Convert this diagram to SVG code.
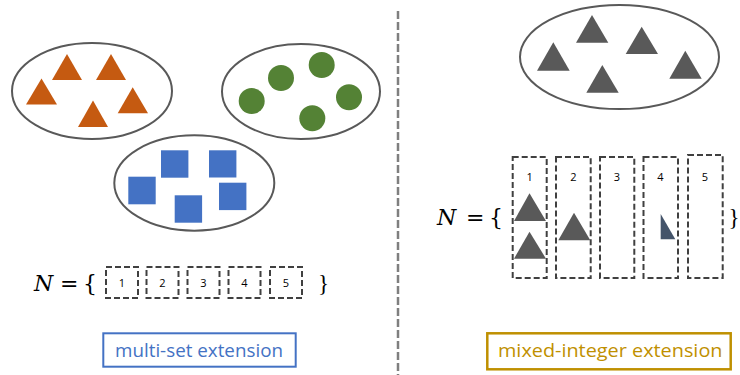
<svg xmlns="http://www.w3.org/2000/svg" width="740" height="375" viewBox="0 0 740 375">
<style>
.ell{fill:none;stroke:#595959;stroke-width:2}
.tri-o{fill:#C55A11}
.tri-g{fill:#595959}
.circ{fill:#548235}
.sq{fill:#4472C4}
.dbox{fill:none;stroke:#404040;stroke-width:2;stroke-dasharray:6 3}
.num{font-family:"Open Sans","Liberation Sans",sans-serif;font-size:11px;fill:#000;text-anchor:middle}
.math{font-family:"DejaVu Serif","Liberation Serif",serif;font-size:22px;fill:#000}
.br{font-family:"Liberation Serif",serif;font-size:23px;fill:#000}
.mi{font-style:italic}
.lbl{font-family:"Open Sans","Liberation Sans",sans-serif;font-size:19px}
</style>
<rect width="740" height="375" fill="#fff"/>
<g id="divider"><line x1="398" y1="11" x2="398" y2="375" stroke="#7f7f7f" stroke-width="2.5" stroke-dasharray="8 3"/></g>

<g id="orange-set">
<ellipse class="ell" cx="92" cy="91" rx="80" ry="48"/>
<polygon class="tri-o" points="67,54 52,80 82,80"/>
<polygon class="tri-o" points="111,54 96,80 126,80"/>
<polygon class="tri-o" points="41.5,78.5 26,104.5 57,104.5"/>
<polygon class="tri-o" points="93,100.5 78,127 108,127"/>
<polygon class="tri-o" points="132.7,87.3 117.7,113.3 148,113.3"/>
</g>

<g id="green-set">
<ellipse class="ell" cx="301" cy="91.5" rx="79" ry="47.5"/>
<circle class="circ" cx="251.7" cy="101" r="13"/>
<circle class="circ" cx="281" cy="78" r="13"/>
<circle class="circ" cx="321.7" cy="65" r="13"/>
<circle class="circ" cx="349" cy="97.3" r="13"/>
<circle class="circ" cx="312.3" cy="118.3" r="13"/>
</g>

<g id="blue-set">
<ellipse class="ell" cx="194.3" cy="183" rx="80" ry="47.7"/>
<rect class="sq" x="128.3" y="176.7" width="27.4" height="27.6"/>
<rect class="sq" x="161" y="150.3" width="27.4" height="27.4"/>
<rect class="sq" x="209" y="150.3" width="27.4" height="27.2"/>
<rect class="sq" x="174.7" y="195.3" width="27.4" height="27.4"/>
<rect class="sq" x="219" y="182.7" width="27.4" height="27.4"/>
</g>

<g id="left-N">
<text class="math mi" x="34" y="291">N</text>
<text class="math" x="60" y="291">=</text>
<text class="math" x="83" y="291">{</text>
<text class="br" x="318" y="291">}</text>
</g>
<g id="left-box-1"><rect class="dbox" x="106" y="267" width="32" height="31"/><text class="num" x="122" y="287">1</text></g>
<g id="left-box-2"><rect class="dbox" x="146.5" y="267" width="32" height="31"/><text class="num" x="162.5" y="287">2</text></g>
<g id="left-box-3"><rect class="dbox" x="187.5" y="267" width="32" height="31"/><text class="num" x="203.5" y="287">3</text></g>
<g id="left-box-4"><rect class="dbox" x="228.5" y="267" width="32" height="31"/><text class="num" x="244.5" y="287">4</text></g>
<g id="left-box-5"><rect class="dbox" x="270" y="267" width="32" height="31"/><text class="num" x="286" y="287">5</text></g>

<g id="multi-set-label">
<rect x="103.3" y="333.3" width="192.4" height="33.4" fill="#fff" stroke="#4472C4" stroke-width="2"/>
<text class="lbl" x="115" y="357" fill="#4472C4" textLength="168" lengthAdjust="spacingAndGlyphs">multi-set extension</text>
</g>

<g id="gray-set">
<ellipse class="ell" cx="619.5" cy="57" rx="99.5" ry="52"/>
<polygon class="tri-g" points="592,15 576,42.7 608.3,42.7"/>
<polygon class="tri-g" points="641.7,26.7 625.7,54 658,54"/>
<polygon class="tri-g" points="553.3,42.3 537,70.7 569.7,70.7"/>
<polygon class="tri-g" points="602.3,65 586.3,92.7 618.7,92.7"/>
<polygon class="tri-g" points="685.3,50.7 669.3,78.7 701.7,78.7"/>
</g>

<g id="right-N">
<text class="math mi" x="437" y="225">N</text>
<text class="math" x="466" y="225">=</text>
<text class="math" x="489" y="225">{</text>
<text class="br" x="728.5" y="225">}</text>
</g>
<g id="right-box-1">
<rect class="dbox" x="512.7" y="157" width="34" height="121"/><text class="num" x="529.7" y="181" font-size="12">1</text>
<polygon class="tri-g" points="529.5,193.3 514,221 546,221"/>
<polygon class="tri-g" points="529.5,231.7 514,258.7 546,258.7"/>
</g>
<g id="right-box-2">
<rect class="dbox" x="556" y="157" width="34.7" height="121"/><text class="num" x="573.3" y="181" font-size="12">2</text>
<polygon class="tri-g" points="574,212.7 558.3,240.3 590.3,240.3"/>
</g>
<g id="right-box-3"><rect class="dbox" x="600" y="157" width="34.3" height="121"/><text class="num" x="617" y="181" font-size="12">3</text></g>
<g id="right-box-4">
<rect class="dbox" x="643.5" y="157" width="34.5" height="121"/><text class="num" x="660.5" y="181" font-size="12">4</text>
<polygon points="660.7,214 660.7,239.3 675.3,239.3" fill="#44546A"/>
</g>
<g id="right-box-5"><rect class="dbox" x="688" y="155" width="34.7" height="123"/><text class="num" x="705" y="181" font-size="12">5</text></g>

<g id="mixed-integer-label">
<rect x="487.3" y="333.3" width="243.4" height="36" fill="#fff" stroke="#BF9000" stroke-width="2.5"/>
<text class="lbl" x="498" y="357" fill="#BF9000" textLength="224.5" lengthAdjust="spacingAndGlyphs">mixed-integer extension</text>
</g>
</svg>
